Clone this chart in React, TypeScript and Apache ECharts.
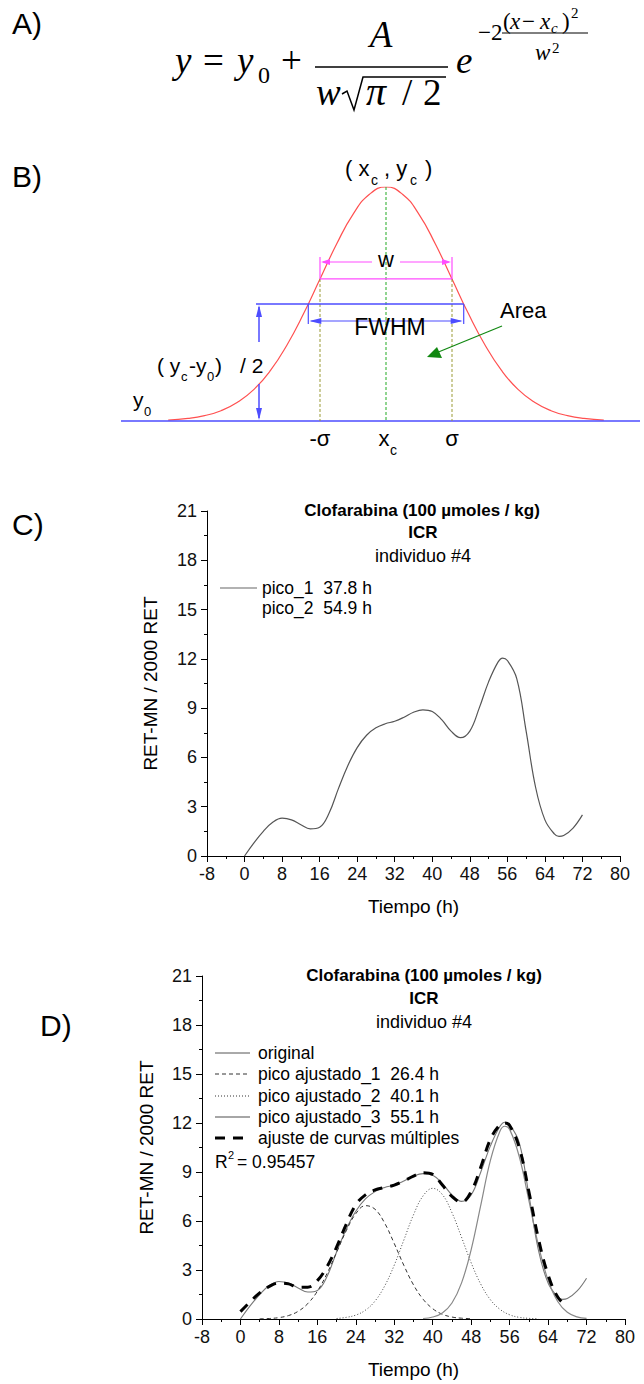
import React, { useEffect, useRef } from "react";
import * as echarts from "echarts";

// ---------- DATA ----------
// Panel B: schematic Gaussian (x in sigma units, y relative to peak)
const gaussX = [-3.3, -3, -2.75, -2.5, -2.25, -2, -1.75, -1.5, -1.25, -1, -0.75, -0.5, -0.25, 0, 0.25, 0.5, 0.75, 1, 1.25, 1.5, 1.75, 2, 2.25, 2.5, 2.75, 3, 3.3];
const gaussY = [0.004, 0.011, 0.023, 0.044, 0.08, 0.135, 0.216, 0.325, 0.458, 0.607, 0.755, 0.883, 0.969, 1, 0.969, 0.883, 0.755, 0.607, 0.458, 0.325, 0.216, 0.135, 0.08, 0.044, 0.023, 0.011, 0.004];

// Panels C & D: original curve
const hours = [0, 2, 4, 6, 8, 10, 12, 14, 16, 18, 20, 22, 24, 26, 28, 30, 32, 34, 36, 38, 40, 42, 44, 46, 48, 50, 52, 54, 55, 56, 58, 60, 62, 64, 66, 67, 68, 70, 72];
const retMN = [0, 0.8, 1.5, 2.05, 2.3, 2.2, 1.9, 1.65, 1.75, 2.6, 4.1, 5.5, 6.6, 7.35, 7.8, 8.05, 8.2, 8.45, 8.75, 8.9, 8.8, 8.3, 7.6, 7.2, 7.6, 9.0, 10.6, 11.8, 12.05, 11.9, 10.8, 7.6, 4.2, 2.2, 1.35, 1.2, 1.25, 1.7, 2.5];

// Panel D: fitted peaks
const fit1X = [4, 6, 8, 10, 12, 14, 16, 18, 20, 22, 24, 26, 28, 30, 32, 34, 36, 38, 40, 42, 44, 46, 48];
const fit1Y = [0.01, 0.03, 0.085, 0.21, 0.47, 0.94, 1.7, 2.78, 4.08, 5.4, 6.45, 6.94, 6.72, 5.87, 4.62, 3.28, 2.09, 1.21, 0.63, 0.29, 0.12, 0.05, 0.02];
const fit2X = [20, 22, 24, 26, 28, 30, 32, 34, 36, 38, 40, 42, 44, 46, 48, 50, 52, 54, 56, 58, 60, 62];
const fit2Y = [0.03, 0.1, 0.24, 0.54, 1.1, 2.02, 3.3, 4.84, 6.38, 7.54, 8.0, 7.62, 6.51, 5.0, 3.44, 2.13, 1.18, 0.59, 0.26, 0.1, 0.04, 0.01];
const fit3X = [38, 40, 42, 44, 46, 48, 50, 52, 54, 55, 56, 58, 60, 62, 64, 66, 68, 70, 72];
const fit3Y = [0.03, 0.12, 0.37, 0.98, 2.21, 4.25, 6.97, 9.71, 11.51, 11.8, 11.61, 9.95, 7.26, 4.5, 2.37, 1.07, 0.41, 0.13, 0.04];
const sumX = [0, 2, 4, 6, 8, 10, 12, 14, 16, 18, 20, 22, 24, 26, 28, 30, 32, 34, 36, 38, 40, 42, 44, 46, 48, 50, 52, 54, 55, 56, 58, 60, 62, 64, 66, 68];
const sumY = [0.45, 1.05, 1.6, 2.0, 2.2, 2.15, 1.95, 1.95, 2.35, 3.2, 4.4, 5.8, 7.0, 7.6, 7.9, 8.05, 8.2, 8.45, 8.75, 8.95, 8.85, 8.2, 7.5, 7.15, 7.8, 9.3, 11.0, 11.9, 12.0, 11.85, 10.5, 7.8, 4.9, 2.7, 1.35, 0.75];

const xMin = -8, xMax = 80, xStep = 8;
const yMin = 0, yMax = 21, yStep = 3;

const titleText = "Clofarabina (100 µmoles / kg)";
const strainText = "ICR";
const subjectText = "individuo #4";
const legendC = ["pico_1\u00a0 37.8 h", "pico_2\u00a0 54.9 h"];
const legendD = ["original", "pico ajustado_1\u00a0 26.4 h", "pico ajustado_2\u00a0 40.1 h", "pico ajustado_3\u00a0 55.1 h", "ajuste de curvas múltiples"];
const r2Text = "= 0.95457";

// ---------- helpers ----------
const SANS = "'Liberation Sans', Arial, sans-serif";
const SERIF = "'Liberation Serif', 'Times New Roman', serif";
const zip = (xs: number[], ys: number[]) => xs.map((x, i) => [x, ys[i]]);

function txt(text: string, x: number, yMid: number, size: number, o: any = {}) {
  return {
    type: "text", x, y: yMid, silent: true, z: 10,
    style: {
      text, fontSize: size, fontFamily: o.family || SANS,
      fontStyle: o.italic ? "italic" : "normal", fontWeight: o.bold ? "bold" : "normal",
      fill: o.color || "#000", align: o.align || "left", verticalAlign: "middle",
    },
  };
}
function bt(text: string, x: number, baseline: number, size: number, o: any = {}) {
  return txt(text, x, baseline - size * 0.34, size, o);
}
function ln(x1: number, y1: number, x2: number, y2: number, color: string, width = 1, dash?: number[]) {
  return { type: "line", silent: true, z: 5, shape: { x1, y1, x2, y2 }, style: { stroke: color, lineWidth: width, lineDash: dash } };
}
function tri(points: number[][], color: string) {
  return { type: "polygon", silent: true, z: 6, shape: { points }, style: { fill: color } };
}

const BLUE = "#4d4dff", PINK = "#ff4dff", RED = "#ff5050";

export default function App() {
  const ref = useRef<HTMLDivElement>(null);
  useEffect(() => {
    if (!ref.current) return;
    const chart = echarts.init(ref.current, undefined, { renderer: "svg" });

    const valueX = (grid: number) => ({
      gridIndex: grid, type: "value", min: xMin, max: xMax, interval: xStep,
      name: "Tiempo (h)", nameLocation: "middle", nameGap: 41,
      nameTextStyle: { color: "#000", fontSize: 19, fontFamily: SANS },
      axisLine: { show: true, onZero: false, lineStyle: { color: "#000", width: 1 } },
      axisTick: { show: true, inside: false, length: 6, lineStyle: { color: "#000" } },
      minorTick: { show: true, splitNumber: 2, length: 3, lineStyle: { color: "#000" } },
      splitLine: { show: false },
      axisLabel: { color: "#111", fontSize: 18, fontFamily: SANS, margin: 9 },
    });
    const valueY = (grid: number, gap: number) => ({
      gridIndex: grid, type: "value", min: yMin, max: yMax, interval: yStep,
      name: "RET-MN / 2000 RET", nameLocation: "middle", nameGap: gap, nameRotate: 90,
      nameTextStyle: { color: "#000", fontSize: 19, fontFamily: SANS },
      axisLine: { show: true, onZero: false, lineStyle: { color: "#000", width: 1 } },
      axisTick: { show: true, inside: false, length: 6, lineStyle: { color: "#000" } },
      minorTick: { show: true, splitNumber: 2, length: 3, lineStyle: { color: "#000" } },
      splitLine: { show: false },
      axisLabel: { color: "#111", fontSize: 18, fontFamily: SANS, margin: 10 },
    });

    // Panel B geometry (schematic annotations)
    const C = 386, S = 66, P = 187, L = 421;
    const hSig = L - 0.607 * (L - P);
    const hHalf = L - 0.5 * (L - P);
    const fw = 1.1774 * S;

    const graphic: any[] = [
      // panel labels
      bt("A)", 12, 34, 30), bt("B)", 12, 187, 30), bt("C)", 12, 535, 30), bt("D)", 40, 1036, 30),

      // ---- Panel A formula ----
      bt("y", 175, 73, 37, { family: SERIF, italic: true }),
      bt("=", 203, 73, 37, { family: SERIF }),
      bt("y", 237, 73, 37, { family: SERIF, italic: true }),
      bt("0", 258, 83, 24, { family: SERIF }),
      bt("+", 281, 73, 37, { family: SERIF }),
      ln(315, 67, 448, 67, "#000", 1.6),
      bt("A", 381, 47, 37, { family: SERIF, italic: true, align: "center" }),
      bt("w", 316, 105, 37, { family: SERIF, italic: true }),
      { type: "polyline", silent: true, shape: { points: [[342, 94], [347, 91], [354, 110], [363, 77], [446, 77]] }, style: { stroke: "#000", lineWidth: 1.5, fill: null } },
      bt("π", 366, 105, 40, { family: SERIF, italic: true }),
      bt("/", 402, 105, 37, { family: SERIF }),
      bt("2", 423, 105, 37, { family: SERIF }),
      bt("e", 456, 73, 37, { family: SERIF, italic: true }),
      bt("−2", 478, 40, 23, { family: SERIF }),
      bt("(", 503, 29, 23, { family: SERIF }),
      bt("x", 510, 29, 23, { family: SERIF, italic: true }),
      bt("−", 522, 29, 23, { family: SERIF }),
      bt("x", 540, 29, 23, { family: SERIF, italic: true }),
      bt("c", 551, 33, 15, { family: SERIF, italic: true }),
      bt(")", 562, 29, 23, { family: SERIF }),
      bt("2", 571, 18, 15, { family: SERIF }),
      ln(502, 33, 588, 33, "#000", 1),
      bt("w", 535, 60, 23, { family: SERIF, italic: true }),
      bt("2", 552, 53, 15, { family: SERIF }),

      // ---- Panel B annotations ----
      ln(121, L, 640, L, BLUE, 1.5),
      ln(C, P, C, L, "#22aa22", 1, [3, 2]),
      ln(C - S, hSig, C - S, L, "#999933", 1, [3, 2]),
      ln(C + S, hSig, C + S, L, "#999933", 1, [3, 2]),
      ln(C - S, hSig, C + S, hSig, PINK, 1.2),
      ln(C - S, P + 70, C - S, hSig, PINK, 1.2),
      ln(C + S, P + 70, C + S, hSig, PINK, 1.2),
      ln(C - S + 3, P + 75, C - 14, P + 75, PINK, 1.2),
      ln(C + 14, P + 75, C + S - 3, P + 75, PINK, 1.2),
      tri([[C - S + 1, P + 75], [C - S + 10, P + 72], [C - S + 10, P + 78]], PINK),
      tri([[C + S - 1, P + 75], [C + S - 10, P + 72], [C + S - 10, P + 78]], PINK),
      txt("w", C, P + 72, 22, { align: "center" }),
      ln(256, hHalf, C + fw, hHalf, BLUE, 1.5),
      ln(C - fw, hHalf, C - fw, hHalf + 20, BLUE, 1.2),
      ln(C + fw, hHalf, C + fw, hHalf + 20, BLUE, 1.2),
      ln(C - fw + 3, hHalf + 17, C + fw - 3, hHalf + 17, BLUE, 1.2),
      tri([[C - fw + 1, hHalf + 17], [C - fw + 13, hHalf + 14], [C - fw + 13, hHalf + 20]], BLUE),
      tri([[C + fw - 1, hHalf + 17], [C + fw - 13, hHalf + 14], [C + fw - 13, hHalf + 20]], BLUE),
      txt("FWHM", C + 4, hHalf + 23, 23, { align: "center" }),
      ln(259, hHalf + 3, 259, 342, BLUE, 1.5),
      ln(259, 384, 259, L - 3, BLUE, 1.5),
      tri([[259, hHalf + 1], [256, hHalf + 13], [262, hHalf + 13]], BLUE),
      tri([[259, L - 1], [256, L - 13], [262, L - 13]], BLUE),
      bt("( y", 157, 373, 21), bt("c", 181, 381, 13), bt("-y", 189, 373, 21), bt("0", 207, 381, 13),
      bt(")", 215, 373, 21), bt("/ 2", 240, 373, 21),
      bt("y", 133, 407, 21), bt("0", 144, 416, 13),
      bt("( x", 345, 176, 22), bt("c", 371, 185, 14), bt(", y", 384, 176, 22), bt("c", 410, 185, 14), bt(")", 425, 176, 22),
      txt("-σ", C - S, L + 17, 22, { align: "center" }),
      txt("x", C - 2, L + 17, 22, { align: "center" }), bt("c", C + 4, L + 34, 14),
      txt("σ", C + S, L + 17, 22, { align: "center" }),
      txt("Area", 500, 310, 22),
      ln(502, 326, 436, 353, "#118811", 1.2),
      tri([[427, 357], [437, 347], [442, 358]], "#118811"),

      // ---- Panel C texts ----
      txt(titleText, 422, 510, 17, { bold: true, align: "center" }),
      txt(strainText, 423, 532, 17, { bold: true, align: "center" }),
      txt(subjectText, 423, 556, 18, { align: "center" }),
      ln(220, 588, 257, 588, "#666", 1.2),
      txt(legendC[0], 262, 588, 17.5),
      txt(legendC[1], 262, 608, 17.5),

      // ---- Panel D texts ----
      txt(titleText, 424, 975, 17, { bold: true, align: "center" }),
      txt(strainText, 424, 998, 17, { bold: true, align: "center" }),
      txt(subjectText, 424, 1022, 18, { align: "center" }),
      ln(215, 1053, 250, 1053, "#555", 1),
      ln(215, 1074, 250, 1074, "#333", 1, [4, 3]),
      ln(215, 1096, 250, 1096, "#333", 1, [1, 2]),
      ln(215, 1117, 250, 1117, "#888", 1.4),
      ln(215, 1138, 250, 1138, "#000", 3, [10, 8]),
      txt(legendD[0], 258, 1053, 17.5),
      txt(legendD[1], 258, 1074, 17.5),
      txt(legendD[2], 258, 1096, 17.5),
      txt(legendD[3], 258, 1117, 17.5),
      txt(legendD[4], 258, 1138, 17.5),
      txt("R", 215, 1162, 17.5), txt("2", 228, 1155, 11), txt(r2Text, 237, 1162, 17.5),
    ];

    const option: any = {
      animation: false,
      backgroundColor: "#ffffff",
      grid: [
        { left: C - 4 * S, top: P, width: 8 * S, height: L - P, outerBoundsMode: "none" },
        { left: 207, top: 511, width: 413, height: 345, outerBoundsMode: "none" },
        { left: 202, top: 976, width: 423, height: 343, outerBoundsMode: "none" },
      ],
      xAxis: [
        { gridIndex: 0, type: "value", min: -4, max: 4, show: false },
        valueX(1),
        valueX(2),
      ],
      yAxis: [
        { gridIndex: 0, type: "value", min: 0, max: 1, show: false },
        valueY(1, 47),
        valueY(2, 46),
      ],
      series: [
        { name: "Gaussiana", type: "line", xAxisIndex: 0, yAxisIndex: 0, data: zip(gaussX, gaussY), smooth: true, showSymbol: false, silent: true, lineStyle: { color: RED, width: 1.2 } },
        { name: "pico", type: "line", xAxisIndex: 1, yAxisIndex: 1, data: zip(hours, retMN), smooth: 0.4, showSymbol: false, silent: true, lineStyle: { color: "#555", width: 1.2 } },
        { name: "original", type: "line", xAxisIndex: 2, yAxisIndex: 2, data: zip(hours, retMN), smooth: 0.4, showSymbol: false, silent: true, lineStyle: { color: "#777", width: 1.1 } },
        { name: "pico ajustado_1", type: "line", xAxisIndex: 2, yAxisIndex: 2, data: zip(fit1X, fit1Y), smooth: 0.4, showSymbol: false, silent: true, lineStyle: { color: "#333", width: 1, type: [4, 3] } },
        { name: "pico ajustado_2", type: "line", xAxisIndex: 2, yAxisIndex: 2, data: zip(fit2X, fit2Y), smooth: 0.4, showSymbol: false, silent: true, lineStyle: { color: "#444", width: 1, type: [1, 2] } },
        { name: "pico ajustado_3", type: "line", xAxisIndex: 2, yAxisIndex: 2, data: zip(fit3X, fit3Y), smooth: 0.4, showSymbol: false, silent: true, lineStyle: { color: "#888", width: 1.2 } },
        { name: "ajuste de curvas múltiples", type: "line", xAxisIndex: 2, yAxisIndex: 2, data: zip(sumX, sumY), smooth: 0.4, showSymbol: false, silent: true, lineStyle: { color: "#000", width: 3, type: [10, 8] } },
      ],
      graphic,
    };
    chart.setOption(option);
    return () => chart.dispose();
  }, []);

  return (
    <div
      ref={ref}
      style={{ position: "absolute", left: 0, top: 0, width: 644, height: 1384, background: "#fff" }}
    />
  );
}
